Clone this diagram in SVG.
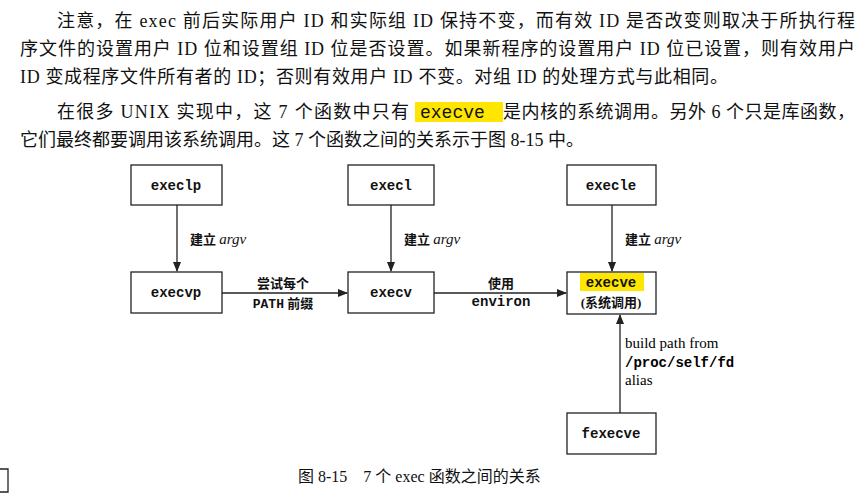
<svg xmlns="http://www.w3.org/2000/svg" width="866" height="497" viewBox="0 0 866 497">
<style>
.p{font-family:"Liberation Serif","Noto Sans CJK SC",serif;font-size:18px;fill:#111}
.b{fill:#fff;stroke:#222;stroke-width:1.3}
.m{font-family:"Liberation Mono","Noto Sans CJK SC",monospace;font-size:14px;font-weight:bold;fill:#111;text-anchor:middle}
.l{font-family:"Liberation Serif","Noto Sans CJK SC",serif;font-size:13px;font-weight:bold;fill:#111}
.c{stroke:#222;stroke-width:1.3;fill:none;marker-end:url(#a)}
</style>
<defs><marker id="a" markerWidth="10" markerHeight="8" refX="9" refY="4" orient="auto" markerUnits="userSpaceOnUse"><path d="M0,0L10,4L0,8z" fill="#222"/></marker></defs>
<rect width="866" height="497" fill="#fff"/>
<g id="text">
<text class="p" x="57" y="27" textLength="798" lengthAdjust="spacing">注意，在 exec 前后实际用户 ID 和实际组 ID 保持不变，而有效 ID 是否改变则取决于所执行程</text>
<text class="p" x="20" y="55" textLength="835" lengthAdjust="spacing">序文件的设置用户 ID 位和设置组 ID 位是否设置。如果新程序的设置用户 ID 位已设置，则有效用户</text>
<text class="p" x="20" y="83" textLength="708" lengthAdjust="spacing">ID 变成程序文件所有者的 ID；否则有效用户 ID 不变。对组 ID 的处理方式与此相同。</text>
<rect x="415" y="102" width="88" height="20" fill="#ffe600"/>
<text class="p" x="57" y="118" textLength="352" lengthAdjust="spacing">在很多 UNIX 实现中，这 7 个函数中只有</text>
<text x="420" y="118" font-family="Liberation Mono" font-size="18" fill="#111">execve</text>
<text class="p" x="503" y="118" textLength="352" lengthAdjust="spacing">是内核的系统调用。另外 6 个只是库函数，</text>
<text class="p" x="20" y="146">它们最终都要调用该系统调用。这 7 个函数之间的关系示于图 8-15 中。</text>
</g>
<g id="connectors">
<line class="c" x1="177" y1="205" x2="177" y2="271"/>
<line class="c" x1="391" y1="205" x2="391" y2="271"/>
<line class="c" x1="612" y1="205" x2="612" y2="271"/>
<line class="c" x1="222" y1="293" x2="347" y2="293"/>
<line class="c" x1="434" y1="293" x2="566" y2="293"/>
<line class="c" x1="620" y1="413" x2="620" y2="315"/>
<text class="l" x="190" y="244">建立 <tspan font-style="italic" font-weight="normal" font-size="15">argv</tspan></text>
<text class="l" x="404" y="244">建立 <tspan font-style="italic" font-weight="normal" font-size="15">argv</tspan></text>
<text class="l" x="625" y="244">建立 <tspan font-style="italic" font-weight="normal" font-size="15">argv</tspan></text>
<text class="l" x="283" y="288" text-anchor="middle">尝试每个</text>
<text class="l" x="283" y="308" text-anchor="middle"><tspan font-family="Liberation Mono">PATH</tspan> 前缀</text>
<text class="l" x="501" y="288" text-anchor="middle">使用</text>
<text class="m" x="501" y="306">environ</text>
<text font-family="Liberation Serif" font-size="15" x="625" y="348">build path from</text>
<text font-family="Liberation Mono" font-size="14" font-weight="bold" x="625" y="367">/proc/self/fd</text>
<text font-family="Liberation Serif" font-size="15" x="625" y="385">alias</text>
</g>
<g id="execlp"><rect class="b" x="131" y="165" width="91" height="40"/><text class="m" x="176" y="190">execlp</text></g>
<g id="execl"><rect class="b" x="348" y="165" width="86" height="40"/><text class="m" x="391" y="190">execl</text></g>
<g id="execle"><rect class="b" x="567" y="165" width="89" height="40"/><text class="m" x="611" y="190">execle</text></g>
<g id="execvp"><rect class="b" x="131" y="272" width="91" height="41"/><text class="m" x="176" y="297">execvp</text></g>
<g id="execv"><rect class="b" x="348" y="272" width="86" height="41"/><text class="m" x="391" y="297">execv</text></g>
<g id="execve"><rect class="b" x="567" y="272" width="89" height="42"/><rect x="580" y="273" width="64" height="18" fill="#ffe600"/><text class="m" x="611" y="287">execve</text><text class="l" x="611" y="307" text-anchor="middle">(系统调用)</text></g>
<g id="fexecve"><rect class="b" x="567" y="413" width="89" height="41"/><text class="m" x="611" y="438">fexecve</text></g>
<text font-family="Liberation Serif,Noto Sans CJK SC,serif" font-size="16" fill="#111" x="298" y="482">图 8-15　7 个 exec 函数之间的关系</text>
<path d="M0,469H8V492H0" fill="none" stroke="#222" stroke-width="1.3"/>
</svg>
